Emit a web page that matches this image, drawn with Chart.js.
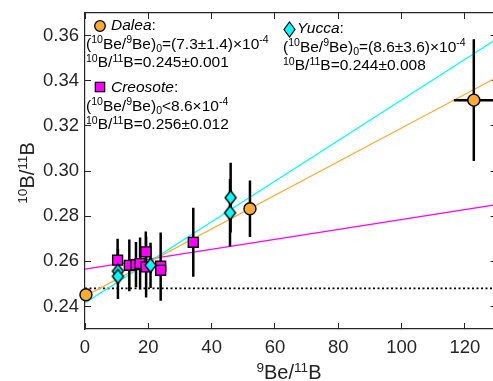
<!DOCTYPE html>
<html>
<head>
<meta charset="utf-8">
<script src="https://cdn.jsdelivr.net/npm/chart.js@4/dist/chart.umd.min.js"></script>
<style>
html, body { margin: 0; padding: 0; background: #fff; overflow: hidden; }
#wrap { position: relative; width: 493px; height: 381px; overflow: hidden; font-family: "Liberation Sans", Arial, sans-serif; color: #000; }
#chart { position: absolute; left: 0; top: 0; }
.note { position: absolute; font-size: 15.5px; line-height: 18.5px; white-space: nowrap; }
.note .ind { display: inline-block; }
sup, sub { font-size: 0.68em; line-height: 0; position: relative; vertical-align: baseline; }
sup { top: -0.5em; }
sub { top: 0.3em; }
.icon { position: absolute; }
.axt { position: absolute; font-size: 20px; line-height: 20px; white-space: nowrap; text-align: center; color: #222; }
</style>
</head>
<body>
<div id="wrap">
  <canvas id="chart" width="505" height="381"></canvas>

  <svg class="icon" style="left:93px;top:19px" width="14" height="14"><circle cx="7" cy="7" r="5.3" fill="#F9AB33" stroke="#000" stroke-width="1.3"/></svg>
  <div class="note" style="left:86px;top:16px"><span class="ind" style="width:25px"></span><i>Dalea</i>:<br>(<sup>10</sup>Be/<sup>9</sup>Be)<sub>0</sub>=(7.3±1.4)×10<sup>-4</sup><br><sup>10</sup>B/<sup>11</sup>B=0.245±0.001</div>

  <svg class="icon" style="left:94px;top:81px" width="12" height="12"><rect x="1.3" y="1.3" width="9.4" height="9.4" fill="#FF00FF" stroke="#000" stroke-width="1.2"/></svg>
  <div class="note" style="left:86px;top:78px"><span class="ind" style="width:25px"></span><i>Creosote</i>:<br>(<sup>10</sup>Be/<sup>9</sup>Be)<sub>0</sub>&lt;8.6×10<sup>-4</sup><br><sup>10</sup>B/<sup>11</sup>B=0.256±0.012</div>

  <svg class="icon" style="left:282px;top:21px" width="15" height="17"><path d="M7.5 1 L13 8.5 L7.5 16 L2 8.5 Z" fill="#00FFFF" stroke="#000" stroke-width="1.2"/></svg>
  <div class="note" style="left:283px;top:19px"><span class="ind" style="width:14px"></span><i>Yucca</i>:<br>(<sup>10</sup>Be/<sup>9</sup>Be)<sub>0</sub>=(8.6±3.6)×10<sup>-4</sup><br><sup>10</sup>B/<sup>11</sup>B=0.244±0.008</div>

  <div class="axt" style="left:189px;top:362px;width:200px"><sup>9</sup>Be/<sup>11</sup>B</div>
  <div class="axt" style="left:-73px;top:163px;width:200px;transform:rotate(-90deg)"><sup>10</sup>B/<sup>11</sup>B</div>
</div>

<script>
const xTickVals = [0, 20, 40, 60, 80, 100, 120];
const yTickVals = [0.24, 0.26, 0.28, 0.30, 0.32, 0.34, 0.36];

// Dalea (orange circles)
const daleaX = [0.3, 52.1, 122.8];
const daleaY = [0.2452, 0.2833, 0.3314];
const daleaYErr = [0.001, 0.0125, 0.027];
const daleaXErr = [0, 0, 6.3];

// Creosote (magenta squares)
const creosoteX = [10.3, 14.0, 16.1, 17.4, 19.2, 19.3, 23.9, 23.9, 34.2];
const creosoteY = [0.2605, 0.2582, 0.2585, 0.2590, 0.2642, 0.2575, 0.2578, 0.2560, 0.2684];
const creosoteYErr = [0.0095, 0.0115, 0.010, 0.0115, 0.009, 0.0135, 0.015, 0.0135, 0.0153];

// Yucca (cyan diamonds)
const yuccaX = [10.4, 10.4, 20.7, 45.8, 46.0];
const yuccaY = [0.2556, 0.2533, 0.2582, 0.2815, 0.2882];
const yuccaYErr = [0.010, 0.010, 0.010, 0.015, 0.0155];

// isochron lines, read at both ends of the x range
const fitX = [0, 130];
const daleaFitY = [0.2445, 0.3414];
const yuccaFitY = [0.2415, 0.3585];
const creosoteFitY = [0.2565, 0.2851];
const refLineY = [0.248, 0.248];

const AXIS = '#262626';

function pts(xs, ys) {
    return xs.map((x, i) => ({ x: x, y: ys[i] }));
}

function errBars(xs, ys, yErr, xErr) {
    const out = [];
    xs.forEach((x, i) => {
        out.push({ x: x, y: ys[i] - yErr[i] }, { x: x, y: ys[i] + yErr[i] }, { x: x, y: null });
        if (xErr && xErr[i] > 0) {
            out.push({ x: x - xErr[i], y: ys[i] }, { x: x + xErr[i], y: ys[i] }, { x: x, y: null });
        }
    });
    return out;
}

function diamond(w, h) {
    const c = document.createElement('canvas');
    c.width = w + 4;
    c.height = h + 4;
    const g = c.getContext('2d');
    const cx = c.width / 2, cy = c.height / 2;
    g.beginPath();
    g.moveTo(cx, cy - h / 2);
    g.lineTo(cx + w / 2, cy);
    g.lineTo(cx, cy + h / 2);
    g.lineTo(cx - w / 2, cy);
    g.closePath();
    g.fillStyle = '#00FFFF';
    g.fill();
    g.lineWidth = 1.4;
    g.strokeStyle = '#000';
    g.stroke();
    return c;
}

function lineSet(data, color, width, order, dash) {
    return {
        type: 'line', data: data, borderColor: color, borderWidth: width,
        borderDash: dash || [], pointRadius: 0, pointHoverRadius: 0,
        spanGaps: false, fill: false, order: order
    };
}

function markerSet(data, style, radius, fill, order) {
    return {
        type: 'line', data: data, showLine: false, pointStyle: style,
        pointRadius: radius, pointHoverRadius: radius,
        pointBackgroundColor: fill, pointBorderColor: '#000', pointBorderWidth: 1.4,
        clip: false, order: order
    };
}

// keep the plot box fixed; the right edge runs just past the visible window
function noPad(s) {
    s.paddingLeft = 0;
    s.paddingRight = 0;
    s.paddingTop = 0;
    s.paddingBottom = 0;
}

const tickFont = { family: '"Liberation Sans", Arial, sans-serif', size: 18.5 };

new Chart(document.getElementById('chart'), {
    type: 'line',
    data: {
        datasets: [
            markerSet(pts(daleaX, daleaY), 'circle', 6, '#F9AB33', 0),
            markerSet(pts(yuccaX, yuccaY), diamond(11, 14), 6, '#00FFFF', 1),
            markerSet(pts(creosoteX, creosoteY), 'rect', 7, '#FF00FF', 2),
            lineSet(errBars(daleaX, daleaY, daleaYErr, daleaXErr), '#000', 2.5, 3),
            lineSet(errBars(yuccaX, yuccaY, yuccaYErr), '#000', 2.5, 3),
            lineSet(errBars(creosoteX, creosoteY, creosoteYErr), '#000', 2.5, 3),
            lineSet(pts(fitX, daleaFitY), '#FFAA33', 1.2, 4),
            lineSet(pts(fitX, yuccaFitY), '#00FFFF', 1.2, 4),
            lineSet(pts(fitX, creosoteFitY), '#FF00FF', 1.2, 4),
            lineSet(pts(fitX, refLineY), '#000', 1.6, 5, [2, 2.5])
        ]
    },
    options: {
        responsive: false,
        animation: false,
        devicePixelRatio: 1,
        events: [],
        layout: { padding: { left: 0, right: 0, top: 13, bottom: 0 } },
        plugins: { legend: { display: false }, tooltip: { enabled: false } },
        scales: {
            x: {
                type: 'linear', position: 'bottom', min: 0, max: 130,
                afterBuildTicks: s => { s.ticks = xTickVals.map(v => ({ value: v })); },
                afterFit: s => { s.height = 52; noPad(s); },
                grid: { drawOnChartArea: false, tickLength: -6, tickColor: AXIS, tickWidth: 1 },
                border: { color: AXIS, width: 1.2 },
                ticks: { color: AXIS, font: tickFont, padding: 14, maxRotation: 0, callback: v => String(v) }
            },
            xTop: {
                type: 'linear', position: 'top', min: 0, max: 130,
                afterBuildTicks: s => { s.ticks = xTickVals.map(v => ({ value: v })); },
                afterFit: s => { s.height = 0; noPad(s); },
                grid: { drawOnChartArea: false, tickLength: -6, tickColor: AXIS, tickWidth: 1 },
                border: { color: AXIS, width: 1.2 },
                ticks: { display: false }
            },
            y: {
                type: 'linear', position: 'left', min: 0.23, max: 0.37,
                afterBuildTicks: s => { s.ticks = yTickVals.map(v => ({ value: v })); },
                afterFit: s => { s.width = 85; noPad(s); },
                grid: { drawOnChartArea: false, tickLength: -6, tickColor: AXIS, tickWidth: 1 },
                border: { color: AXIS, width: 1.2 },
                ticks: { color: AXIS, font: tickFont, padding: 12, callback: v => v.toFixed(2) }
            },
            yRight: {
                type: 'linear', position: 'right', min: 0.23, max: 0.37,
                afterBuildTicks: s => { s.ticks = yTickVals.map(v => ({ value: v })); },
                afterFit: s => { s.width = 0; noPad(s); },
                grid: { drawOnChartArea: false, tickLength: -6, tickColor: AXIS, tickWidth: 1 },
                border: { color: AXIS, width: 1.2 },
                ticks: { display: false }
            }
        }
    }
});
</script>
</body>
</html>
